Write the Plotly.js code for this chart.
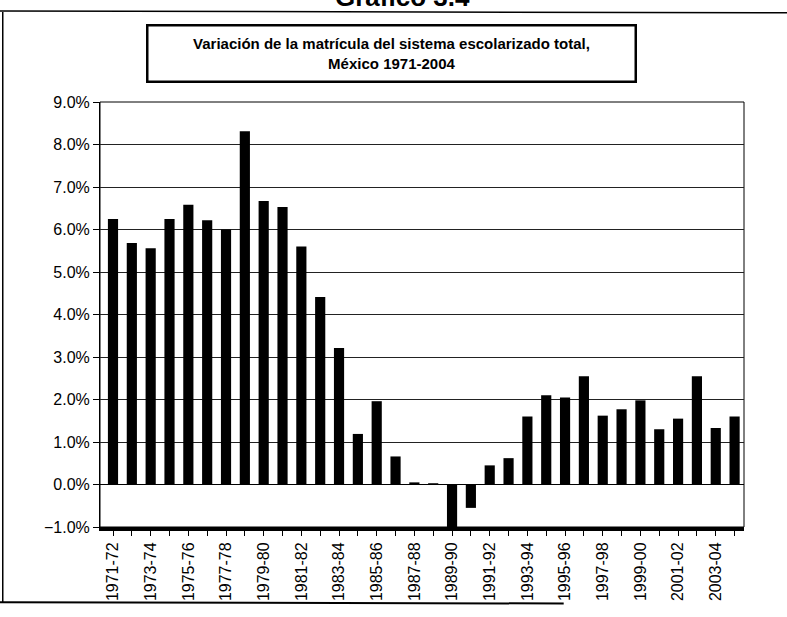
<!DOCTYPE html>
<html>
<head>
<meta charset="utf-8">
<script src="https://cdn.plot.ly/plotly-3.0.1.min.js"></script>
<style>
  html, body { margin: 0; padding: 0; background: #fff; }
  #chart { width: 787px; height: 617px; }
</style>
</head>
<body>
<div id="chart"></div>
<script>
// School years and yearly change of total enrolment (%)
const years = [
    '1971-72', '1972-73', '1973-74', '1974-75', '1975-76', '1976-77', '1977-78',
    '1978-79', '1979-80', '1980-81', '1981-82', '1982-83', '1983-84', '1984-85',
    '1985-86', '1986-87', '1987-88', '1988-89', '1989-90', '1990-91', '1991-92',
    '1992-93', '1993-94', '1994-95', '1995-96', '1996-97', '1997-98', '1998-99',
    '1999-00', '2000-01', '2001-02', '2002-03', '2003-04', '2004-05'
];
const variation = [
    6.25, 5.68, 5.56, 6.25, 6.58, 6.22, 6.0,
    8.31, 6.67, 6.53, 5.6, 4.41, 3.21, 1.19,
    1.96, 0.66, 0.05, 0.03, -1.0, -0.55, 0.45,
    0.62, 1.6, 2.1, 2.05, 2.55, 1.62, 1.77,
    1.98, 1.3, 1.55, 2.55, 1.33, 1.6
];
// only every other year gets a label
const tickLabels = years.map((y, i) => (i % 2 === 0 ? y : ''));

const font = 'Liberation Sans, Arial, sans-serif';

const data = [{
    type: 'bar',
    x: years,
    y: variation,
    marker: { color: '#000' },
    hoverinfo: 'x+y'
}];

const layout = {
    width: 787,
    height: 617,
    margin: { l: 100, r: 43, t: 102, b: 90 },
    paper_bgcolor: '#fff',
    plot_bgcolor: '#fff',
    font: { family: font, color: '#000' },
    bargap: 0.46,
    showlegend: false,
    xaxis: {
        type: 'category',
        range: [-0.69, 33.5],
        tickmode: 'array',
        tickvals: years,
        ticktext: tickLabels,
        tickangle: -90,
        tickfont: { size: 16, family: font },
        ticks: 'outside',
        ticklen: 5,
        tickcolor: '#000',
        showline: true,
        linecolor: '#000',
        linewidth: 4,
        showgrid: false
    },
    yaxis: {
        range: [-1, 9],
        dtick: 1,
        tickformat: '.1f',
        ticksuffix: '%',
        tickfont: { size: 16, family: font },
        ticks: 'outside',
        ticklen: 6,
        tickcolor: '#000',
        showline: true,
        linecolor: '#000',
        linewidth: 1,
        showgrid: true,
        gridcolor: '#222',
        gridwidth: 1,
        zeroline: true,
        zerolinecolor: '#000',
        zerolinewidth: 1.5
    },
    shapes: [
        // back wall border
        { type: 'rect', xref: 'paper', yref: 'paper', x0: 0, x1: 1, y0: 0, y1: 1,
          line: { color: '#000', width: 1 }, layer: 'below' },
        // scanned page frame
        { type: 'line', xref: 'paper', yref: 'paper', x0: -0.151, x1: -0.151, y0: -0.179, y1: 1.212,
          line: { color: '#000', width: 1.5 } },
        { type: 'line', xref: 'paper', yref: 'paper', x0: -0.16, x1: 1.07, y0: 1.214, y1: 1.21,
          line: { color: '#000', width: 1.5 } },
        { type: 'line', xref: 'paper', yref: 'paper', x0: -0.16, x1: 0.72, y0: -0.177, y1: -0.18,
          line: { color: '#000', width: 2 } }
    ],
    annotations: [
        {
            text: '<b>Gráfico 3.4</b>',
            xref: 'paper', yref: 'paper',
            x: 0.47, y: 1.247,
            xanchor: 'center', yanchor: 'middle',
            showarrow: false,
            font: { size: 26, family: font }
        },
        {
            text: '<b>Variación de la matrícula del sistema escolarizado total,<br>México 1971-2004</b>',
            xref: 'paper', yref: 'paper',
            x: 0.452, y: 1.113,
            xanchor: 'center', yanchor: 'middle',
            showarrow: false,
            width: 482,
            height: 50,
            bordercolor: '#000',
            borderwidth: 2.5,
            borderpad: 2,
            bgcolor: '#fff',
            font: { size: 15, family: font }
        }
    ]
};

Plotly.newPlot('chart', data, layout, { displayModeBar: false, staticPlot: true });
</script>
</body>
</html>
